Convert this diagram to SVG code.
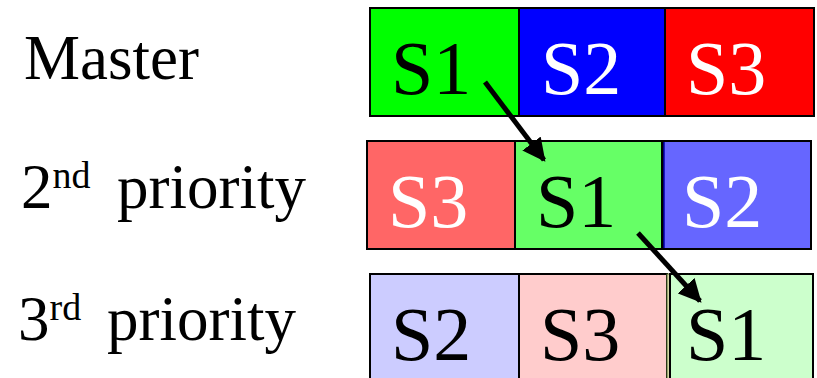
<svg xmlns="http://www.w3.org/2000/svg" width="817" height="378" viewBox="0 0 817 378">
<defs>
<style>
.box{stroke:#000;stroke-width:2}
.conn{stroke:#000;stroke-width:5;fill:none;marker-end:url(#ah)}
</style>
<marker id="ah" viewBox="0 0 10 10" refX="9" refY="5" markerWidth="4.6" markerHeight="4.6" orient="auto" markerUnits="strokeWidth">
<path d="M0,0 L10,5 L0,10 z" fill="#000"/>
</marker>
</defs>
<rect width="817" height="378" fill="#fff"/>
<g id="label-master"><text font-family="Liberation Serif" font-size="31.5" fill="#000" transform="translate(24,79) scale(2)">Master</text></g>
<g id="label-2nd"><text font-family="Liberation Serif" font-size="31.5" fill="#000" transform="translate(21,208) scale(2)">2<tspan font-size="19" dy="-10">nd</tspan><tspan x="48" dy="10">priority</tspan></text></g>
<g id="label-3rd"><text font-family="Liberation Serif" font-size="31.5" fill="#000" transform="translate(18,340) scale(2)">3<tspan font-size="19" dy="-10">rd</tspan><tspan x="44.5" dy="10">priority</tspan></text></g>

<g id="row1">
<g id="m-s1"><rect class="box" x="370" y="8" width="149" height="108" fill="#00ff00"/><text font-family="Liberation Serif" font-size="38" fill="#000" transform="translate(391,94) scale(2)">S1</text></g>
<g id="m-s2"><rect class="box" x="519" y="8" width="146" height="108" fill="#0000ff"/><text font-family="Liberation Serif" font-size="38" fill="#fff" transform="translate(541,94) scale(2)">S2</text></g>
<g id="m-s3"><rect class="box" x="665" y="8" width="149" height="108" fill="#ff0000"/><text font-family="Liberation Serif" font-size="38" fill="#fff" transform="translate(686,94) scale(2)">S3</text></g>
</g>
<g id="row2">
<g id="p2-s3"><rect class="box" x="367" y="141" width="148" height="108" fill="#ff6666"/><text font-family="Liberation Serif" font-size="38" fill="#fff" transform="translate(388,227) scale(2)">S3</text></g>
<g id="p2-s1"><rect class="box" x="515" y="141" width="147" height="108" fill="#66ff66"/><text font-family="Liberation Serif" font-size="38" fill="#000" transform="translate(536,227) scale(2)">S1</text></g>
<g id="p2-s2"><rect class="box" x="663" y="141" width="148" height="108" fill="#6666ff"/><line x1="664" y1="142" x2="664" y2="248" stroke="#0000aa" stroke-width="1.5"/><text font-family="Liberation Serif" font-size="38" fill="#fff" transform="translate(682,227) scale(2)">S2</text></g>
</g>
<g id="row3">
<g id="p3-s2"><rect class="box" x="370" y="274" width="149" height="110" fill="#ccccff"/><text font-family="Liberation Serif" font-size="38" fill="#000" transform="translate(391,360) scale(2)">S2</text></g>
<g id="p3-s3"><rect class="box" x="519" y="274" width="148" height="110" fill="#ffcccc"/><text font-family="Liberation Serif" font-size="38" fill="#000" transform="translate(540,360) scale(2)">S3</text></g>
<rect x="667" y="274" width="3" height="110" fill="#d8d8a8" stroke="#556b2f" stroke-width="1"/>
<g id="p3-s1"><rect class="box" x="670" y="274" width="143" height="110" fill="#ccffcc"/><text font-family="Liberation Serif" font-size="38" fill="#000" transform="translate(686,360) scale(2)">S1</text></g>
</g>
<g id="connectors">
<line class="conn" x1="485" y1="82" x2="544" y2="160"/>
<line class="conn" x1="638" y1="233" x2="700" y2="301"/>
</g>
</svg>
